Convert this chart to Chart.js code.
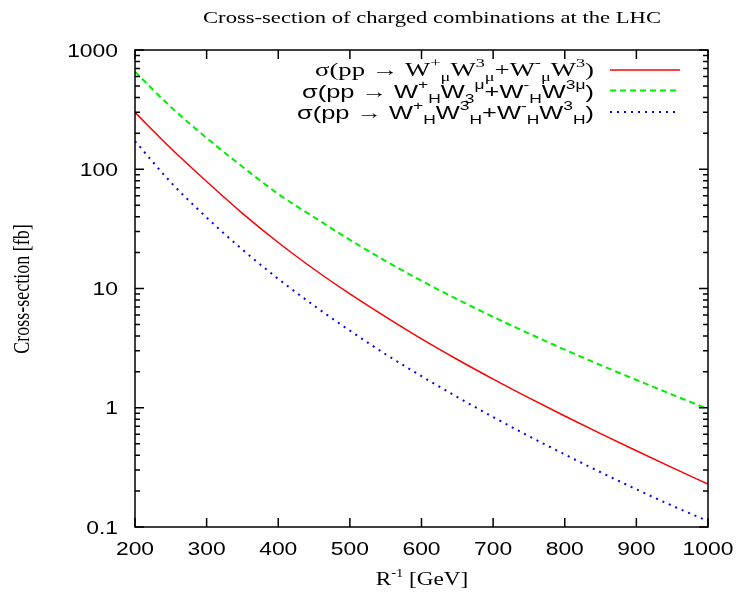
<!DOCTYPE html>
<html>
<head>
<meta charset="utf-8">
<script src="https://cdn.jsdelivr.net/npm/chart.js@4.4.1/dist/chart.umd.min.js"></script>
<style>
  html, body { margin: 0; padding: 0; background: #fff; }
</style>
</head>
<body>
<canvas id="chartCanvas" width="741" height="592"></canvas>
<script>
// values (fb), every 50 GeV
const energies   = [200, 250, 300, 350, 400, 450, 500, 550, 600, 650, 700, 750, 800, 850, 900, 950, 1000];
const sigmaGauge = [300, 150, 78.9, 42.7, 24.3, 14.5, 9.0, 5.78, 3.78, 2.54, 1.74, 1.21, 0.853, 0.607, 0.436, 0.315, 0.229];
const sigmaMixed = [658, 333, 183, 105, 62, 39.6, 25.6, 17.0, 11.6, 8.13, 5.78, 4.19, 3.07, 2.28, 1.71, 1.29, 0.975];
const sigmaHeavy = [172, 77.8, 39.4, 21.2, 12.05, 7.18, 4.43, 2.81, 1.84, 1.23, 0.836, 0.578, 0.406, 0.288, 0.207, 0.151, 0.112];

const xTickValues = [200, 300, 400, 500, 600, 700, 800, 900, 1000];
const yTickValues = [0.1, 1, 10, 100, 1000];
const yTickLabels = ['0.1', '1', '10', '100', '1000'];

const titleText = 'Cross-section of charged combinations at the LHC';
const yTitleText = 'Cross-section [fb]';

// legend entries: [text, 0 normal / -1 superscript / 1 subscript]
const legendLines = [
  { family: '"Liberation Serif", serif', color: '#ff0000', dash: [], width: 1.5, parts: [
    ['σ(pp → W', 0], ['+', -1], ['μ', 1], ['W', 0], ['3', -1], ['μ', 1], ['+W', 0], ['-', -1], ['μ', 1], ['W', 0], ['3', -1], [')', 0]] },
  { family: '"Liberation Sans", sans-serif', color: '#00ee00', dash: [6, 4], width: 2, parts: [
    ['σ(pp → W', 0], ['+', -1], ['H', 1], ['W', 0], ['3', 1], ['μ', -1], ['+W', 0], ['-', -1], ['H', 1], ['W', 0], ['3μ', -1], [')', 0]] },
  { family: '"Liberation Sans", sans-serif', color: '#0000ff', dash: [2, 5], width: 2, parts: [
    ['σ(pp → W', 0], ['+', -1], ['H', 1], ['W', 0], ['3', -1], ['H', 1], ['+W', 0], ['-', -1], ['H', 1], ['W', 0], ['3', -1], ['H', 1], [')', 0]] }
];

const toPoints = ys => energies.map((x, i) => ({ x: x, y: ys[i] }));

function stretchText(ctx, text, x, y, font, align, sx) {
  ctx.save();
  ctx.font = font;
  ctx.textAlign = align;
  ctx.textBaseline = 'alphabetic';
  ctx.translate(x, y);
  ctx.scale(sx, 1);
  ctx.fillText(text, 0, 0);
  ctx.restore();
}

const gnuplotFrame = {
  id: 'gnuplotFrame',
  afterDraw(chart) {
    const ctx = chart.ctx;
    const area = chart.chartArea;
    const xs = chart.scales.x, ys = chart.scales.y;
    ctx.save();
    ctx.strokeStyle = '#000';
    ctx.fillStyle = '#000';
    ctx.lineWidth = 1.5;
    ctx.setLineDash([]);
    ctx.strokeRect(area.left, area.top, area.right - area.left, area.bottom - area.top);

    // x ticks (bottom and top, inward)
    ctx.beginPath();
    xTickValues.forEach(v => {
      const px = xs.getPixelForValue(v);
      ctx.moveTo(px, area.bottom); ctx.lineTo(px, area.bottom - 9);
      ctx.moveTo(px, area.top); ctx.lineTo(px, area.top + 9);
    });
    // y ticks, major and minor (left and right, inward)
    for (let d = 0.1; d < 1000; d *= 10) {
      for (let k = 1; k <= 10; k++) {
        const v = d * k;
        const len = (k === 1 || k === 10) ? 9 : 5;
        const py = ys.getPixelForValue(v);
        ctx.moveTo(area.left, py); ctx.lineTo(area.left + len, py);
        ctx.moveTo(area.right, py); ctx.lineTo(area.right - len, py);
      }
    }
    ctx.stroke();

    // tick labels
    const tickFont = '18px "Liberation Sans", Arial, sans-serif';
    yTickValues.forEach((v, i) => {
      stretchText(ctx, yTickLabels[i], area.left - 17, ys.getPixelForValue(v) + 6.5, tickFont, 'right', 1.27);
    });
    xTickValues.forEach(v => {
      stretchText(ctx, String(v), xs.getPixelForValue(v), area.bottom + 28, tickFont, 'center', 1.27);
    });

    // title
    stretchText(ctx, titleText, 432, 23, '17px "Liberation Serif", serif', 'center', 1.33);

    // x axis title R^-1 [GeV]
    const serif = '"Liberation Serif", serif';
    ctx.save();
    ctx.font = '19px ' + serif;
    const wR = ctx.measureText('R').width;
    ctx.font = '12px ' + serif;
    const wS = ctx.measureText('-1').width;
    ctx.font = '19px ' + serif;
    const wG = ctx.measureText(' [GeV]').width;
    ctx.restore();
    const sxT = 1.22;
    let xpos = 422 - (wR + wS + wG) * sxT / 2;
    stretchText(ctx, 'R', xpos, 585, '19px ' + serif, 'left', sxT);
    xpos += wR * sxT;
    stretchText(ctx, '-1', xpos, 577, '12px ' + serif, 'left', sxT);
    xpos += wS * sxT;
    stretchText(ctx, ' [GeV]', xpos, 585, '19px ' + serif, 'left', sxT);

    // y axis title, rotated
    ctx.save();
    ctx.translate(29, 289);
    ctx.rotate(-Math.PI / 2);
    ctx.scale(1, 1.25);
    ctx.font = '18px ' + serif;
    ctx.textAlign = 'center';
    ctx.fillText(yTitleText, 0, 0);
    ctx.restore();

    // legend
    const baselines = [76, 97.5, 118.5];
    const lefts = [315, 302, 297];
    const sampleY = [70, 90.5, 112];
    const textRight = 594;
    legendLines.forEach((ln, li) => {
      const big = '19px ' + ln.family, small = '13px ' + ln.family;
      let total = 0;
      const widths = ln.parts.map(p => {
        ctx.font = p[1] === 0 ? big : small;
        const w = ctx.measureText(p[0]).width;
        total += w;
        return w;
      });
      const sx = (textRight - lefts[li]) / total;
      let x = lefts[li];
      ln.parts.forEach((p, pi) => {
        const dy = p[1] === -1 ? -9 : (p[1] === 1 ? 5 : 0);
        stretchText(ctx, p[0], x, baselines[li] + dy, p[1] === 0 ? big : small, 'left', sx);
        x += widths[pi] * sx;
      });
      ctx.beginPath();
      ctx.strokeStyle = ln.color;
      ctx.lineWidth = ln.width;
      ctx.setLineDash(ln.dash);
      ctx.moveTo(610, sampleY[li]);
      ctx.lineTo(li === 2 ? 676 : 680, sampleY[li]);
      ctx.stroke();
      ctx.setLineDash([]);
    });
    ctx.restore();
  }
};

const ctx = document.getElementById('chartCanvas');
window.myChart = new Chart(ctx, {
  type: 'line',
  data: {
    datasets: [
      { label: 'gauge', data: toPoints(sigmaGauge), borderColor: '#ff0000', borderWidth: 1.5,
        pointRadius: 0, cubicInterpolationMode: 'monotone', fill: false },
      { label: 'mixed', data: toPoints(sigmaMixed), borderColor: '#00ee00', borderWidth: 2,
        borderDash: [6, 4], pointRadius: 0, cubicInterpolationMode: 'monotone', fill: false },
      { label: 'heavy', data: toPoints(sigmaHeavy), borderColor: '#0000ff', borderWidth: 2,
        borderDash: [2, 5], pointRadius: 0, cubicInterpolationMode: 'monotone', fill: false }
    ]
  },
  options: {
    responsive: false,
    animation: false,
    devicePixelRatio: 1,
    layout: { padding: { top: 50, right: 33, left: 0, bottom: 0 } },
    plugins: { legend: { display: false }, tooltip: { enabled: false } },
    scales: {
      x: {
        type: 'linear', min: 200, max: 1000,
        grid: { display: false, drawTicks: false },
        border: { display: false },
        ticks: { display: false },
        afterFit: s => { s.height = 65; }
      },
      y: {
        type: 'logarithmic', min: 0.1, max: 1000,
        grid: { display: false, drawTicks: false },
        border: { display: false },
        ticks: { display: false },
        afterFit: s => { s.width = 135; }
      }
    }
  },
  plugins: [gnuplotFrame]
});
</script>
</body>
</html>
